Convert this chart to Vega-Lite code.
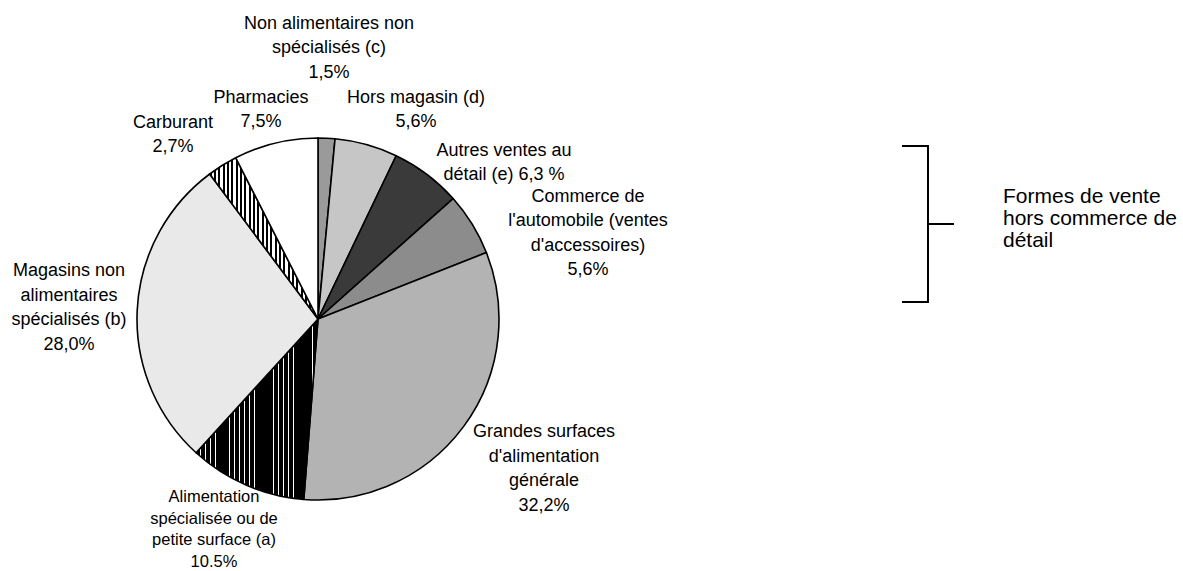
{
  "$schema": "https://vega.github.io/schema/vega-lite/v6.json",
  "width": 1183,
  "height": 571,
  "autosize": {"type": "fit", "contains": "padding"},
  "padding": 0,
  "background": "white",
  "config": {
    "view": {"stroke": null},
    "text": {"font": "Liberation Sans", "fontSize": 18, "lineHeight": 24.5, "color": "black", "align": "center", "baseline": "middle"}
  },
  "data": {
    "values": [
      {"rang": 1, "forme": "Non alimentaires non spécialisés (c)", "part": 1.5, "etiquette": "Non alimentaires non\nspécialisés (c)\n1,5%"},
      {"rang": 2, "forme": "Hors magasin (d)", "part": 5.6, "etiquette": "Hors magasin (d)\n5,6%"},
      {"rang": 3, "forme": "Autres ventes au détail (e)", "part": 6.3, "etiquette": "Autres ventes au\ndétail (e) 6,3 %"},
      {"rang": 4, "forme": "Commerce de l'automobile (ventes d'accessoires)", "part": 5.6, "etiquette": "Commerce de\nl'automobile (ventes\nd'accessoires)\n5,6%"},
      {"rang": 5, "forme": "Grandes surfaces d'alimentation générale", "part": 32.2, "etiquette": "Grandes surfaces\nd'alimentation\ngénérale\n32,2%"},
      {"rang": 6, "forme": "Alimentation spécialisée ou de petite surface (a)", "part": 10.5, "etiquette": "Alimentation\nspécialisée ou de\npetite surface (a)\n10.5%"},
      {"rang": 7, "forme": "Magasins non alimentaires spécialisés (b)", "part": 28.0, "etiquette": "Magasins non\nalimentaires\nspécialisés (b)\n28,0%"},
      {"rang": 8, "forme": "Carburant", "part": 2.7, "etiquette": "Carburant\n2,7%"},
      {"rang": 9, "forme": "Pharmacies", "part": 7.5, "etiquette": "Pharmacies\n7,5%"}
    ]
  },
  "layer": [
    {
      "mark": {"type": "arc", "x": 318, "y": 319, "outerRadius": 181, "stroke": "black", "strokeWidth": 1.6, "strokeJoin": "round"},
      "encoding": {
        "theta": {"field": "part", "type": "quantitative", "stack": true},
        "order": {"field": "rang", "type": "quantitative", "sort": "ascending"},
        "fill": {
          "condition": [
            {
              "test": "datum.rang === 6",
              "value": {
                "gradient": "linear", "x1": 0, "y1": 0, "x2": 1, "y2": 0,
                "stops": [
                  {"offset": 0, "color": "#000"}, {"offset": 0.034, "color": "#000"}, {"offset": 0.034, "color": "#fff"}, {"offset": 0.04, "color": "#fff"},
                  {"offset": 0.04, "color": "#000"}, {"offset": 0.074, "color": "#000"}, {"offset": 0.074, "color": "#fff"}, {"offset": 0.08, "color": "#fff"},
                  {"offset": 0.08, "color": "#000"}, {"offset": 0.114, "color": "#000"}, {"offset": 0.114, "color": "#fff"}, {"offset": 0.12, "color": "#fff"},
                  {"offset": 0.12, "color": "#000"}, {"offset": 0.154, "color": "#000"}, {"offset": 0.154, "color": "#fff"}, {"offset": 0.16, "color": "#fff"},
                  {"offset": 0.16, "color": "#000"}, {"offset": 0.194, "color": "#000"}, {"offset": 0.194, "color": "#fff"}, {"offset": 0.2, "color": "#fff"},
                  {"offset": 0.2, "color": "#000"}, {"offset": 0.234, "color": "#000"}, {"offset": 0.234, "color": "#fff"}, {"offset": 0.24, "color": "#fff"},
                  {"offset": 0.24, "color": "#000"}, {"offset": 0.274, "color": "#000"}, {"offset": 0.274, "color": "#fff"}, {"offset": 0.28, "color": "#fff"},
                  {"offset": 0.28, "color": "#000"}, {"offset": 0.314, "color": "#000"}, {"offset": 0.314, "color": "#fff"}, {"offset": 0.32, "color": "#fff"},
                  {"offset": 0.32, "color": "#000"}, {"offset": 0.354, "color": "#000"}, {"offset": 0.354, "color": "#fff"}, {"offset": 0.36, "color": "#fff"},
                  {"offset": 0.36, "color": "#000"}, {"offset": 0.394, "color": "#000"}, {"offset": 0.394, "color": "#fff"}, {"offset": 0.4, "color": "#fff"},
                  {"offset": 0.4, "color": "#000"}, {"offset": 0.434, "color": "#000"}, {"offset": 0.434, "color": "#fff"}, {"offset": 0.44, "color": "#fff"},
                  {"offset": 0.44, "color": "#000"}, {"offset": 0.474, "color": "#000"}, {"offset": 0.474, "color": "#fff"}, {"offset": 0.48, "color": "#fff"},
                  {"offset": 0.48, "color": "#000"}, {"offset": 0.514, "color": "#000"}, {"offset": 0.514, "color": "#fff"}, {"offset": 0.52, "color": "#fff"},
                  {"offset": 0.52, "color": "#000"}, {"offset": 0.554, "color": "#000"}, {"offset": 0.554, "color": "#fff"}, {"offset": 0.56, "color": "#fff"},
                  {"offset": 0.56, "color": "#000"}, {"offset": 0.594, "color": "#000"}, {"offset": 0.594, "color": "#fff"}, {"offset": 0.6, "color": "#fff"},
                  {"offset": 0.6, "color": "#000"}, {"offset": 0.634, "color": "#000"}, {"offset": 0.634, "color": "#fff"}, {"offset": 0.64, "color": "#fff"},
                  {"offset": 0.64, "color": "#000"}, {"offset": 0.674, "color": "#000"}, {"offset": 0.674, "color": "#fff"}, {"offset": 0.68, "color": "#fff"},
                  {"offset": 0.68, "color": "#000"}, {"offset": 0.714, "color": "#000"}, {"offset": 0.714, "color": "#fff"}, {"offset": 0.72, "color": "#fff"},
                  {"offset": 0.72, "color": "#000"}, {"offset": 0.754, "color": "#000"}, {"offset": 0.754, "color": "#fff"}, {"offset": 0.76, "color": "#fff"},
                  {"offset": 0.76, "color": "#000"}, {"offset": 0.794, "color": "#000"}, {"offset": 0.794, "color": "#fff"}, {"offset": 0.8, "color": "#fff"},
                  {"offset": 0.8, "color": "#000"}, {"offset": 0.834, "color": "#000"}, {"offset": 0.834, "color": "#fff"}, {"offset": 0.84, "color": "#fff"},
                  {"offset": 0.84, "color": "#000"}, {"offset": 0.874, "color": "#000"}, {"offset": 0.874, "color": "#fff"}, {"offset": 0.88, "color": "#fff"},
                  {"offset": 0.88, "color": "#000"}, {"offset": 0.914, "color": "#000"}, {"offset": 0.914, "color": "#fff"}, {"offset": 0.92, "color": "#fff"},
                  {"offset": 0.92, "color": "#000"}, {"offset": 0.954, "color": "#000"}, {"offset": 0.954, "color": "#fff"}, {"offset": 0.96, "color": "#fff"},
                  {"offset": 0.96, "color": "#000"}, {"offset": 0.994, "color": "#000"}, {"offset": 0.994, "color": "#fff"}, {"offset": 1, "color": "#fff"}
                ]
              }
            },
            {
              "test": "datum.rang === 8",
              "value": {
                "gradient": "linear", "x1": 0, "y1": 0, "x2": 1, "y2": 0,
                "stops": [
                  {"offset": 0, "color": "#000"}, {"offset": 0.018, "color": "#000"}, {"offset": 0.018, "color": "#fff"}, {"offset": 0.04, "color": "#fff"},
                  {"offset": 0.04, "color": "#000"}, {"offset": 0.058, "color": "#000"}, {"offset": 0.058, "color": "#fff"}, {"offset": 0.08, "color": "#fff"},
                  {"offset": 0.08, "color": "#000"}, {"offset": 0.098, "color": "#000"}, {"offset": 0.098, "color": "#fff"}, {"offset": 0.12, "color": "#fff"},
                  {"offset": 0.12, "color": "#000"}, {"offset": 0.138, "color": "#000"}, {"offset": 0.138, "color": "#fff"}, {"offset": 0.16, "color": "#fff"},
                  {"offset": 0.16, "color": "#000"}, {"offset": 0.178, "color": "#000"}, {"offset": 0.178, "color": "#fff"}, {"offset": 0.2, "color": "#fff"},
                  {"offset": 0.2, "color": "#000"}, {"offset": 0.218, "color": "#000"}, {"offset": 0.218, "color": "#fff"}, {"offset": 0.24, "color": "#fff"},
                  {"offset": 0.24, "color": "#000"}, {"offset": 0.258, "color": "#000"}, {"offset": 0.258, "color": "#fff"}, {"offset": 0.28, "color": "#fff"},
                  {"offset": 0.28, "color": "#000"}, {"offset": 0.298, "color": "#000"}, {"offset": 0.298, "color": "#fff"}, {"offset": 0.32, "color": "#fff"},
                  {"offset": 0.32, "color": "#000"}, {"offset": 0.338, "color": "#000"}, {"offset": 0.338, "color": "#fff"}, {"offset": 0.36, "color": "#fff"},
                  {"offset": 0.36, "color": "#000"}, {"offset": 0.378, "color": "#000"}, {"offset": 0.378, "color": "#fff"}, {"offset": 0.4, "color": "#fff"},
                  {"offset": 0.4, "color": "#000"}, {"offset": 0.418, "color": "#000"}, {"offset": 0.418, "color": "#fff"}, {"offset": 0.44, "color": "#fff"},
                  {"offset": 0.44, "color": "#000"}, {"offset": 0.458, "color": "#000"}, {"offset": 0.458, "color": "#fff"}, {"offset": 0.48, "color": "#fff"},
                  {"offset": 0.48, "color": "#000"}, {"offset": 0.498, "color": "#000"}, {"offset": 0.498, "color": "#fff"}, {"offset": 0.52, "color": "#fff"},
                  {"offset": 0.52, "color": "#000"}, {"offset": 0.538, "color": "#000"}, {"offset": 0.538, "color": "#fff"}, {"offset": 0.56, "color": "#fff"},
                  {"offset": 0.56, "color": "#000"}, {"offset": 0.578, "color": "#000"}, {"offset": 0.578, "color": "#fff"}, {"offset": 0.6, "color": "#fff"},
                  {"offset": 0.6, "color": "#000"}, {"offset": 0.618, "color": "#000"}, {"offset": 0.618, "color": "#fff"}, {"offset": 0.64, "color": "#fff"},
                  {"offset": 0.64, "color": "#000"}, {"offset": 0.658, "color": "#000"}, {"offset": 0.658, "color": "#fff"}, {"offset": 0.68, "color": "#fff"},
                  {"offset": 0.68, "color": "#000"}, {"offset": 0.698, "color": "#000"}, {"offset": 0.698, "color": "#fff"}, {"offset": 0.72, "color": "#fff"},
                  {"offset": 0.72, "color": "#000"}, {"offset": 0.738, "color": "#000"}, {"offset": 0.738, "color": "#fff"}, {"offset": 0.76, "color": "#fff"},
                  {"offset": 0.76, "color": "#000"}, {"offset": 0.778, "color": "#000"}, {"offset": 0.778, "color": "#fff"}, {"offset": 0.8, "color": "#fff"},
                  {"offset": 0.8, "color": "#000"}, {"offset": 0.818, "color": "#000"}, {"offset": 0.818, "color": "#fff"}, {"offset": 0.84, "color": "#fff"},
                  {"offset": 0.84, "color": "#000"}, {"offset": 0.858, "color": "#000"}, {"offset": 0.858, "color": "#fff"}, {"offset": 0.88, "color": "#fff"},
                  {"offset": 0.88, "color": "#000"}, {"offset": 0.898, "color": "#000"}, {"offset": 0.898, "color": "#fff"}, {"offset": 0.92, "color": "#fff"},
                  {"offset": 0.92, "color": "#000"}, {"offset": 0.938, "color": "#000"}, {"offset": 0.938, "color": "#fff"}, {"offset": 0.96, "color": "#fff"},
                  {"offset": 0.96, "color": "#000"}, {"offset": 0.978, "color": "#000"}, {"offset": 0.978, "color": "#fff"}, {"offset": 1, "color": "#fff"}
                ]
              }
            }
          ],
          "field": "forme",
          "type": "nominal",
          "legend": null,
          "scale": {
            "domain": [
              "Non alimentaires non spécialisés (c)",
              "Hors magasin (d)",
              "Autres ventes au détail (e)",
              "Commerce de l'automobile (ventes d'accessoires)",
              "Grandes surfaces d'alimentation générale",
              "Alimentation spécialisée ou de petite surface (a)",
              "Magasins non alimentaires spécialisés (b)",
              "Carburant",
              "Pharmacies"
            ],
            "range": ["#9a9a9a", "#c6c6c6", "#3a3a3a", "#8c8c8c", "#b3b3b3", "#333333", "#e9e9e9", "#8a8a8a", "#ffffff"]
          }
        }
      }
    },
    {"transform": [{"filter": "datum.rang === 1"}], "mark": {"type": "text", "x": 318, "y": 319, "theta": 0.0406, "radius": 271.2, "dy": -24.5, "lineBreak": "\n"}, "encoding": {"text": {"field": "etiquette"}}},
    {"transform": [{"filter": "datum.rang === 2"}], "mark": {"type": "text", "x": 318, "y": 319, "theta": 0.4384, "radius": 230.8, "dy": -12.25, "lineBreak": "\n"}, "encoding": {"text": {"field": "etiquette"}}},
    {"transform": [{"filter": "datum.rang === 3"}], "mark": {"type": "text", "x": 318, "y": 319, "theta": 0.8731, "radius": 242.8, "dy": -12.25, "lineBreak": "\n"}, "encoding": {"text": {"field": "etiquette"}}},
    {"transform": [{"filter": "datum.rang === 4"}], "mark": {"type": "text", "x": 318, "y": 319, "theta": 1.2649, "radius": 283.1, "dy": -36.75, "lineBreak": "\n"}, "encoding": {"text": {"field": "etiquette"}}},
    {"transform": [{"filter": "datum.rang === 5"}], "mark": {"type": "text", "x": 318, "y": 319, "theta": 2.1565, "radius": 271.2, "dy": -36.75, "lineBreak": "\n"}, "encoding": {"text": {"field": "etiquette"}}},
    {"transform": [{"filter": "datum.rang === 6"}], "mark": {"type": "text", "x": 318, "y": 319, "theta": 3.6015, "radius": 234.3, "dy": -31.5, "fontSize": 16.5, "lineHeight": 21.5, "lineBreak": "\n"}, "encoding": {"text": {"field": "etiquette"}}},
    {"transform": [{"filter": "datum.rang === 7"}], "mark": {"type": "text", "x": 318, "y": 319, "theta": 4.7565, "radius": 249.2, "dy": -36.75, "lineBreak": "\n"}, "encoding": {"text": {"field": "etiquette"}}},
    {"transform": [{"filter": "datum.rang === 8"}], "mark": {"type": "text", "x": 318, "y": 319, "theta": 5.6157, "radius": 234.3, "dy": -12.25, "lineBreak": "\n"}, "encoding": {"text": {"field": "etiquette"}}},
    {"transform": [{"filter": "datum.rang === 9"}], "mark": {"type": "text", "x": 318, "y": 319, "theta": 6.0168, "radius": 216.6, "dy": -12.25, "lineBreak": "\n"}, "encoding": {"text": {"field": "etiquette"}}},
    {
      "data": {"values": [{"segment": "montant"}]},
      "mark": {"type": "rule", "stroke": "black", "strokeWidth": 2},
      "encoding": {"x": {"value": 928}, "y": {"value": 146}, "y2": {"value": 302}}
    },
    {
      "data": {"values": [{"segment": "haut"}]},
      "mark": {"type": "rule", "stroke": "black", "strokeWidth": 2},
      "encoding": {"x": {"value": 902}, "x2": {"value": 929}, "y": {"value": 146}}
    },
    {
      "data": {"values": [{"segment": "bas"}]},
      "mark": {"type": "rule", "stroke": "black", "strokeWidth": 2},
      "encoding": {"x": {"value": 902}, "x2": {"value": 929}, "y": {"value": 302}}
    },
    {
      "data": {"values": [{"segment": "milieu"}]},
      "mark": {"type": "rule", "stroke": "black", "strokeWidth": 2},
      "encoding": {"x": {"value": 928}, "x2": {"value": 954}, "y": {"value": 224}}
    },
    {
      "data": {"values": [{"note": "Formes de vente\nhors commerce de\ndétail"}]},
      "mark": {"type": "text", "x": 1003, "y": 197, "align": "left", "fontSize": 21, "lineHeight": 22, "lineBreak": "\n"},
      "encoding": {"text": {"field": "note"}}
    }
  ]
}
